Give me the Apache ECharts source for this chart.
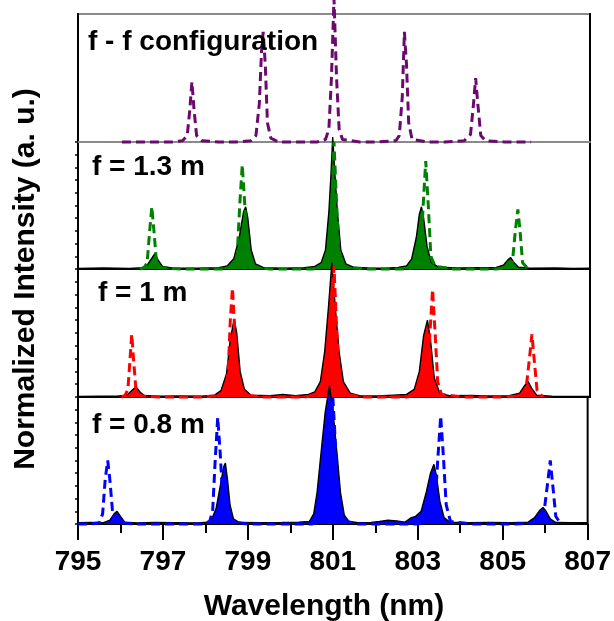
<!DOCTYPE html>
<html>
<head>
<meta charset="utf-8">
<script src="https://cdn.jsdelivr.net/npm/echarts@6/dist/echarts.min.js"></script>
<style>
  html, body { margin: 0; padding: 0; background: #fff; }
  #chart { width: 614px; height: 621px; }
</style>
</head>
<body>
<div id="chart"></div>
<script>
// Wavelength axis
const xMin = 795;
const xMax = 807;
const xStep = 2;

// Panel captions, top to bottom
const panelLabels = ['f - f configuration', 'f = 1.3 m', 'f = 1 m', 'f = 0.8 m'];
const xTitle = 'Wavelength (nm)';
const yTitle = 'Normalized Intensity (a. u.)';

// f - f configuration reference comb  [wavelength nm, normalized intensity]
const ffDashed = [[796.03,0.0],[796.4,0.0],[796.8,0.0],[797.2,0.0],[797.45,0.01],[797.56,0.05],[797.62,0.25],[797.67,0.47],[797.72,0.25],[797.78,0.05],[797.9,0.01],[798.3,0.0],[798.7,0.0],[799.05,0.01],[799.17,0.05],[799.25,0.3],[799.30,0.7],[799.34,0.86],[799.39,0.6],[799.44,0.15],[799.52,0.03],[799.7,0.0],[800.2,0.0],[800.6,0.0],[800.8,0.02],[800.88,0.1],[800.94,0.5],[801.0,1.12],[801.06,0.5],[801.12,0.1],[801.2,0.02],[801.6,0.0],[802.0,0.0],[802.45,0.01],[802.53,0.05],[802.60,0.35],[802.65,0.86],[802.70,0.6],[802.75,0.15],[802.83,0.02],[803.2,0.0],[803.6,0.0],[804.05,0.01],[804.2,0.06],[804.27,0.3],[804.32,0.5],[804.37,0.3],[804.44,0.05],[804.55,0.01],[805.0,0.0],[805.62,0.0]];

// f = 1.3 m
const dashed13 = [[796.45,0.0],[796.55,0.01],[796.62,0.05],[796.68,0.3],[796.73,0.49],[796.78,0.3],[796.84,0.05],[796.95,0.01],[797.4,0.0],[797.9,0.0],[798.4,0.0],[798.65,0.02],[798.73,0.1],[798.79,0.5],[798.85,0.82],[798.91,0.5],[798.97,0.1],[799.07,0.02],[799.5,0.0],[800.0,0.0],[800.5,0.0],[800.8,0.02],[800.9,0.15],[800.96,0.6],[801.0,1.0],[801.05,0.6],[801.11,0.15],[801.2,0.02],[801.7,0.0],[802.2,0.0],[802.7,0.0],[802.95,0.02],[803.03,0.1],[803.09,0.5],[803.15,0.85],[803.21,0.5],[803.27,0.1],[803.37,0.02],[803.8,0.0],[804.3,0.0],[804.8,0.0],[805.1,0.01],[805.18,0.05],[805.25,0.3],[805.31,0.47],[805.36,0.3],[805.42,0.05],[805.55,0.0]];
const solid13 = [[795.0,0.005],[795.6,0.008],[796.2,0.005],[796.5,0.01],[796.62,0.03],[796.72,0.08],[796.80,0.12],[796.88,0.07],[796.98,0.02],[797.2,0.008],[797.8,0.006],[798.3,0.01],[798.5,0.025],[798.65,0.08],[798.78,0.25],[798.88,0.45],[798.93,0.49],[798.98,0.4],[799.06,0.15],[799.16,0.04],[799.35,0.01],[799.8,0.006],[800.3,0.01],[800.55,0.02],[800.7,0.05],[800.8,0.15],[800.88,0.45],[800.93,0.75],[800.97,1.04],[801.02,0.75],[801.08,0.45],[801.16,0.15],[801.28,0.04],[801.45,0.015],[801.8,0.008],[802.2,0.006],[802.5,0.012],[802.7,0.025],[802.82,0.08],[802.93,0.25],[803.0,0.43],[803.05,0.49],[803.1,0.4],[803.18,0.18],[803.28,0.05],[803.45,0.015],[803.9,0.008],[804.4,0.01],[804.8,0.012],[804.97,0.03],[805.07,0.07],[805.14,0.09],[805.22,0.05],[805.32,0.015],[805.6,0.006],[806.2,0.008],[806.6,0.005],[807.0,0.006]];

// f = 1 m
const dashed10 = [[796.02,0.0],[796.1,0.01],[796.17,0.06],[796.22,0.3],[796.26,0.49],[796.3,0.3],[796.36,0.05],[796.45,0.01],[796.9,0.0],[797.4,0.0],[797.9,0.0],[798.3,0.01],[798.45,0.04],[798.52,0.2],[798.57,0.6],[798.62,0.85],[798.67,0.55],[798.73,0.12],[798.82,0.02],[799.3,0.0],[799.8,0.0],[800.3,0.0],[800.7,0.02],[800.85,0.12],[800.93,0.55],[801.0,1.02],[801.06,0.55],[801.13,0.12],[801.25,0.02],[801.7,0.0],[802.2,0.0],[802.7,0.0],[803.05,0.02],[803.17,0.1],[803.24,0.45],[803.31,0.84],[803.37,0.5],[803.43,0.12],[803.52,0.02],[804.0,0.0],[804.5,0.0],[805.0,0.0],[805.4,0.01],[805.5,0.06],[805.58,0.3],[805.64,0.49],[805.69,0.3],[805.76,0.05],[805.9,0.0]];
const solid10 = [[795.0,0.005],[795.5,0.007],[795.9,0.006],[796.15,0.015],[796.26,0.05],[796.36,0.08],[796.45,0.04],[796.55,0.012],[796.9,0.006],[797.4,0.008],[797.9,0.007],[798.2,0.015],[798.35,0.05],[798.48,0.18],[798.57,0.45],[798.66,0.61],[798.72,0.5],[798.8,0.2],[798.9,0.06],[799.05,0.015],[799.5,0.01],[799.8,0.02],[800.1,0.01],[800.4,0.02],[800.55,0.04],[800.68,0.12],[800.78,0.35],[800.87,0.7],[800.95,1.05],[801.03,0.7],[801.12,0.35],[801.22,0.12],[801.38,0.03],[801.6,0.01],[802.0,0.008],[802.4,0.015],[802.7,0.02],[802.88,0.06],[803.0,0.2],[803.1,0.48],[803.19,0.6],[803.26,0.45],[803.35,0.15],[803.48,0.03],[803.7,0.01],[804.2,0.012],[804.6,0.008],[805.1,0.01],[805.35,0.03],[805.47,0.09],[805.55,0.12],[805.63,0.07],[805.75,0.015],[806.1,0.006],[806.5,0.005],[807.0,0.005]];

// f = 0.8 m
const dashed08 = [[795.0,0.0],[795.3,0.0],[795.5,0.01],[795.58,0.08],[795.64,0.35],[795.70,0.5],[795.75,0.35],[795.82,0.07],[795.92,0.01],[796.4,0.0],[796.9,0.0],[797.4,0.0],[797.9,0.0],[798.1,0.02],[798.17,0.1],[798.23,0.5],[798.29,0.84],[798.35,0.55],[798.42,0.12],[798.52,0.02],[799.0,0.0],[799.5,0.0],[800.0,0.0],[800.5,0.0],[800.8,0.03],[800.9,0.2],[800.96,0.7],[801.0,1.0],[801.05,0.7],[801.11,0.2],[801.2,0.03],[801.6,0.0],[802.1,0.0],[802.6,0.0],[803.0,0.0],[803.3,0.02],[803.4,0.12],[803.47,0.5],[803.54,0.85],[803.6,0.55],[803.67,0.15],[803.77,0.02],[804.3,0.0],[804.8,0.0],[805.3,0.0],[805.8,0.01],[805.96,0.06],[806.05,0.3],[806.12,0.5],[806.18,0.3],[806.25,0.06],[806.37,0.0]];
const solid08 = [[795.0,0.01],[795.3,0.012],[795.6,0.01],[795.75,0.03],[795.85,0.08],[795.92,0.1],[796.0,0.06],[796.1,0.015],[796.4,0.008],[796.8,0.012],[797.3,0.01],[797.8,0.008],[798.05,0.015],[798.15,0.04],[798.25,0.12],[798.35,0.3],[798.43,0.45],[798.47,0.48],[798.52,0.35],[798.58,0.15],[798.66,0.04],[798.8,0.012],[799.3,0.01],[799.8,0.012],[800.2,0.015],[800.45,0.02],[800.55,0.08],[800.63,0.25],[800.72,0.55],[800.82,0.88],[800.92,1.09],[801.0,0.9],[801.1,0.55],[801.18,0.25],[801.27,0.07],[801.38,0.02],[801.6,0.01],[801.9,0.012],[802.1,0.02],[802.3,0.03],[802.5,0.025],[802.7,0.015],[802.85,0.05],[802.95,0.06],[803.08,0.1],[803.2,0.25],[803.3,0.4],[803.38,0.47],[803.44,0.38],[803.52,0.18],[803.62,0.05],[803.75,0.015],[804.2,0.01],[804.7,0.012],[805.2,0.01],[805.6,0.015],[805.75,0.05],[805.88,0.11],[805.95,0.13],[806.02,0.1],[806.12,0.04],[806.25,0.012],[806.6,0.01],[807.0,0.01]];

const PURPLE = '#6b0a6e', GREEN = '#008000', RED = '#ff0000', BLUE = '#0000ff';
const FONT = '"Liberation Sans", Arial, sans-serif';

// four stacked panels sharing the wavelength scale
const panels = [
  { top: 14,  height: 128, border: '#8a8a8a' },
  { top: 142, height: 127, border: '#000' },
  { top: 269, height: 128, border: '#000' },
  { top: 397, height: 127, border: '#000' }
];
const labelPos = [[88, 42], [92, 167], [98, 293], [92, 425]];

const grids = panels.map(p => ({
  left: 78, right: 24, top: p.top, height: p.height,
  show: true, borderColor: p.border, borderWidth: 2, backgroundColor: 'transparent'
}));

const xAxes = panels.map((p, i) => {
  const last = i === panels.length - 1;
  return {
    type: 'value', gridIndex: i, min: xMin, max: xMax, interval: xStep,
    splitLine: { show: false },
    axisLine: { show: true, onZero: false, lineStyle: { color: i === 0 ? '#8a8a8a' : '#000', width: 2 } },
    axisTick: { show: last, length: 16, lineStyle: { color: '#000', width: 2 } },
    minorTick: { show: last, splitNumber: 2, length: 9, lineStyle: { color: '#000', width: 2 } },
    axisLabel: {
      show: last, margin: 24, color: '#000',
      fontFamily: '"Liberation Sans Narrow", "Arial Narrow", ' + FONT,
      fontWeight: 'bold', fontSize: 28
    }
  };
});

const yAxes = panels.map((p, i) => ({
  type: 'value', gridIndex: i, min: 0, max: 1, interval: 0.1,
  splitLine: { show: false },
  axisLabel: { show: false },
  axisLine: { show: true, lineStyle: { color: '#000', width: 2 } },
  axisTick: { show: i > 0, length: 3, lineStyle: { color: '#000', width: 1.5 } }
}));
// dark right edge for the top panel
yAxes.push({
  type: 'value', gridIndex: 0, position: 'right', min: 0, max: 1,
  splitLine: { show: false }, axisLabel: { show: false }, axisTick: { show: false },
  axisLine: { show: true, lineStyle: { color: '#000', width: 2 } }
});

function dashedSeries(data, idx, color) {
  return {
    type: 'line', xAxisIndex: idx, yAxisIndex: idx, data: data,
    showSymbol: false, clip: false, z: 4,
    lineStyle: { color: color, width: 3, type: [9, 5] }
  };
}
function filledSeries(data, idx, color) {
  return {
    type: 'line', xAxisIndex: idx, yAxisIndex: idx, data: data,
    showSymbol: false, clip: false, z: 3,
    lineStyle: { color: '#000', width: 1.4 },
    areaStyle: { color: color, opacity: 1 }
  };
}

const series = [
  dashedSeries(ffDashed, 0, PURPLE),
  filledSeries(solid13, 1, GREEN),
  dashedSeries(dashed13, 1, GREEN),
  filledSeries(solid10, 2, RED),
  dashedSeries(dashed10, 2, RED),
  filledSeries(solid08, 3, BLUE),
  dashedSeries(dashed08, 3, BLUE)
];

const texts = panelLabels.map((t, i) => ({
  type: 'text', x: labelPos[i][0], y: labelPos[i][1], z: 10,
  style: { text: t, font: 'bold 28px ' + FONT, fill: '#000', align: 'left', verticalAlign: 'middle' }
}));
texts.push({
  type: 'text', x: 324, y: 607, z: 10,
  style: { text: xTitle, font: 'bold 30px ' + FONT, fill: '#000', align: 'center', verticalAlign: 'middle' }
});
texts.push({
  type: 'text', x: 26, y: 279, rotation: Math.PI / 2, z: 10,
  style: { text: yTitle, font: 'bold 30px ' + FONT, fill: '#000', align: 'center', verticalAlign: 'middle' }
});

const chart = echarts.init(document.getElementById('chart'), null, { renderer: 'canvas' });
chart.setOption({
  animation: false,
  backgroundColor: '#fff',
  grid: grids,
  xAxis: xAxes,
  yAxis: yAxes,
  series: series,
  graphic: texts
});
</script>
</body>
</html>
